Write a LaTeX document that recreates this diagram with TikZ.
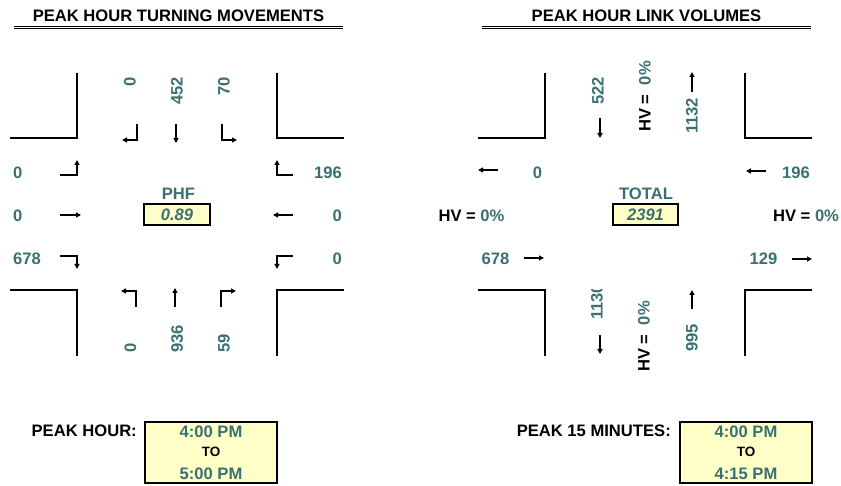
\documentclass[tikz,border=0pt]{standalone}
\usepackage{fontspec}
\setmainfont{Liberation Sans}
\usepackage{xcolor}
\usetikzlibrary{arrows.meta}
\definecolor{vol}{RGB}{58,112,112}
\definecolor{boxfill}{RGB}{255,255,200}

\begin{document}
\begin{tikzpicture}[x=1pt,y=-1pt, font=\bfseries\fontsize{16.6}{18}\selectfont,
  every node/.style={inner sep=0pt},
  vol/.style={text=vol},
  curb/.style={line width=2.6pt},
  mv/.style={line width=1.5pt,-{Triangle[length=5pt,width=5pt]}},
  valbox/.style={draw,line width=1.7pt,fill=boxfill,text=vol},
  small/.style={font=\bfseries\fontsize{13.5}{15}\selectfont}]
\useasboundingbox (0,0) rectangle (841,486);
% titles
\node (tmTitle) at (178.5,15.8) {PEAK HOUR TURNING MOVEMENTS};
\draw[line width=0.8pt] (14,26.3) -- (343,26.3) (14,28.6) -- (343,28.6);
\node (lvTitle) at (646.5,15.8) {PEAK HOUR LINK VOLUMES};
\draw[line width=0.8pt] (482,26.3) -- (811,26.3) (482,28.6) -- (811,28.6);
% curbs of both intersections
\foreach \dx in {0,468} {
  \draw[curb] (\dx+10,138) -- (\dx+77,138) -- (\dx+77,73);
  \draw[curb] (\dx+344,138) -- (\dx+277,138) -- (\dx+277,73);
  \draw[curb] (\dx+10,290) -- (\dx+77,290) -- (\dx+77,356);
  \draw[curb] (\dx+344,290) -- (\dx+277,290) -- (\dx+277,356);
}
% turning movements
\foreach \n [count=\i from 0] in {0,452,70}
  \node[vol,rotate=90,anchor=east] (sb\i) at (130+47*\i,77) {\n};
\foreach \n [count=\i from 0] in {0,936,59}
  \node[vol,rotate=90,anchor=west] (nb\i) at (130.5+46.7*\i,353) {\n};
\foreach \n [count=\i from 0] in {0,0,678}
  \node[vol,anchor=west] (eb\i) at (13,172.5+43.3*\i) {\n};
\foreach \n [count=\i from 0] in {196,0,0}
  \node[vol,anchor=east] (wb\i) at (342,172.5+43.3*\i) {\n};
\draw[mv] (60,175) -- (77,175) -- (77,160);
\draw[mv] (60,215) -- (81,215);
\draw[mv] (60,256) -- (77,256) -- (77,269);
\draw[mv] (293,175) -- (277,175) -- (277,160);
\draw[mv] (293,215) -- (273,215);
\draw[mv] (293,256) -- (277,256) -- (277,269);
\draw[mv] (137,124) -- (137,140) -- (122,140);
\draw[mv] (176,124) -- (176,143);
\draw[mv] (222,124) -- (222,140) -- (237,140);
\draw[mv] (136,307) -- (136,291) -- (121,291);
\draw[mv] (175,307) -- (175,288);
\draw[mv] (221,307) -- (221,291) -- (236,291);
\node[vol] (phf) at (178.5,193.5) {PHF};
\node[valbox,minimum width=66.5pt,minimum height=21pt,font=\bfseries\itshape\fontsize{16.6}{18}\selectfont] (phfVal) at (177,214.8) {0.89};
% link volumes
\node[vol,rotate=90,anchor=east] (sIn) at (598,77) {522};
\draw[mv] (600,118) -- (600,138);
\node[rotate=90] (hvN) at (645,96.5) {HV = \ \textcolor{vol}{0\%}};
\node[vol,rotate=90,anchor=west] (nOut) at (692,134) {1132};
\draw[mv] (692,92) -- (692,72);
\begin{scope}
  \clip (580,290) rectangle (615,330);
  \node[vol,rotate=90,anchor=west] (sOut) at (597,320) {1130};
\end{scope}
\draw[mv] (600,335) -- (600,354);
\node[rotate=90] (hvS) at (644,336.5) {HV = \ \textcolor{vol}{0\%}};
\node[vol,rotate=90,anchor=west] (nIn) at (692,352) {995};
\draw[mv] (692,309) -- (692,290);
\draw[mv] (498,170) -- (478,170);
\node[vol] (wOut) at (537.5,172.5) {0};
\node (hvW) at (471.5,216) {HV = \textcolor{vol}{0\%}};
\node[vol] (wIn) at (495.5,259) {678};
\draw[mv] (524,258) -- (544,258);
\draw[mv] (766,171) -- (746,171);
\node[vol] (eIn) at (796,172.5) {196};
\node (hvE) at (806,216) {HV = \textcolor{vol}{0\%}};
\node[vol] (eOut) at (763.5,259) {129};
\draw[mv] (792,259) -- (812,259);
\node[vol] (total) at (646,193.5) {TOTAL};
\node[valbox,minimum width=65.5pt,minimum height=21pt,font=\bfseries\itshape\fontsize{16.6}{18}\selectfont] (totalVal) at (645.5,214.8) {2391};
% peak periods
\node[anchor=east] (phLab) at (137,430.5) {PEAK HOUR:};
\node[valbox,minimum width=132pt,minimum height=61pt] (phBox) at (211,452.5) {};
\node[vol] (ph1) at (211,431.5) {4:00 PM};
\node[small] (ph2) at (211,451.5) {TO};
\node[vol] (ph3) at (211,473.5) {5:00 PM};
\node[anchor=east] (pqLab) at (671,430.5) {PEAK 15 MINUTES:};
\node[valbox,minimum width=132pt,minimum height=61pt] (pqBox) at (746,452.5) {};
\node[vol] (pq1) at (746,431.5) {4:00 PM};
\node[small] (pq2) at (746,451.5) {TO};
\node[vol] (pq3) at (746,473.5) {4:15 PM};
\end{tikzpicture}
\end{document}
